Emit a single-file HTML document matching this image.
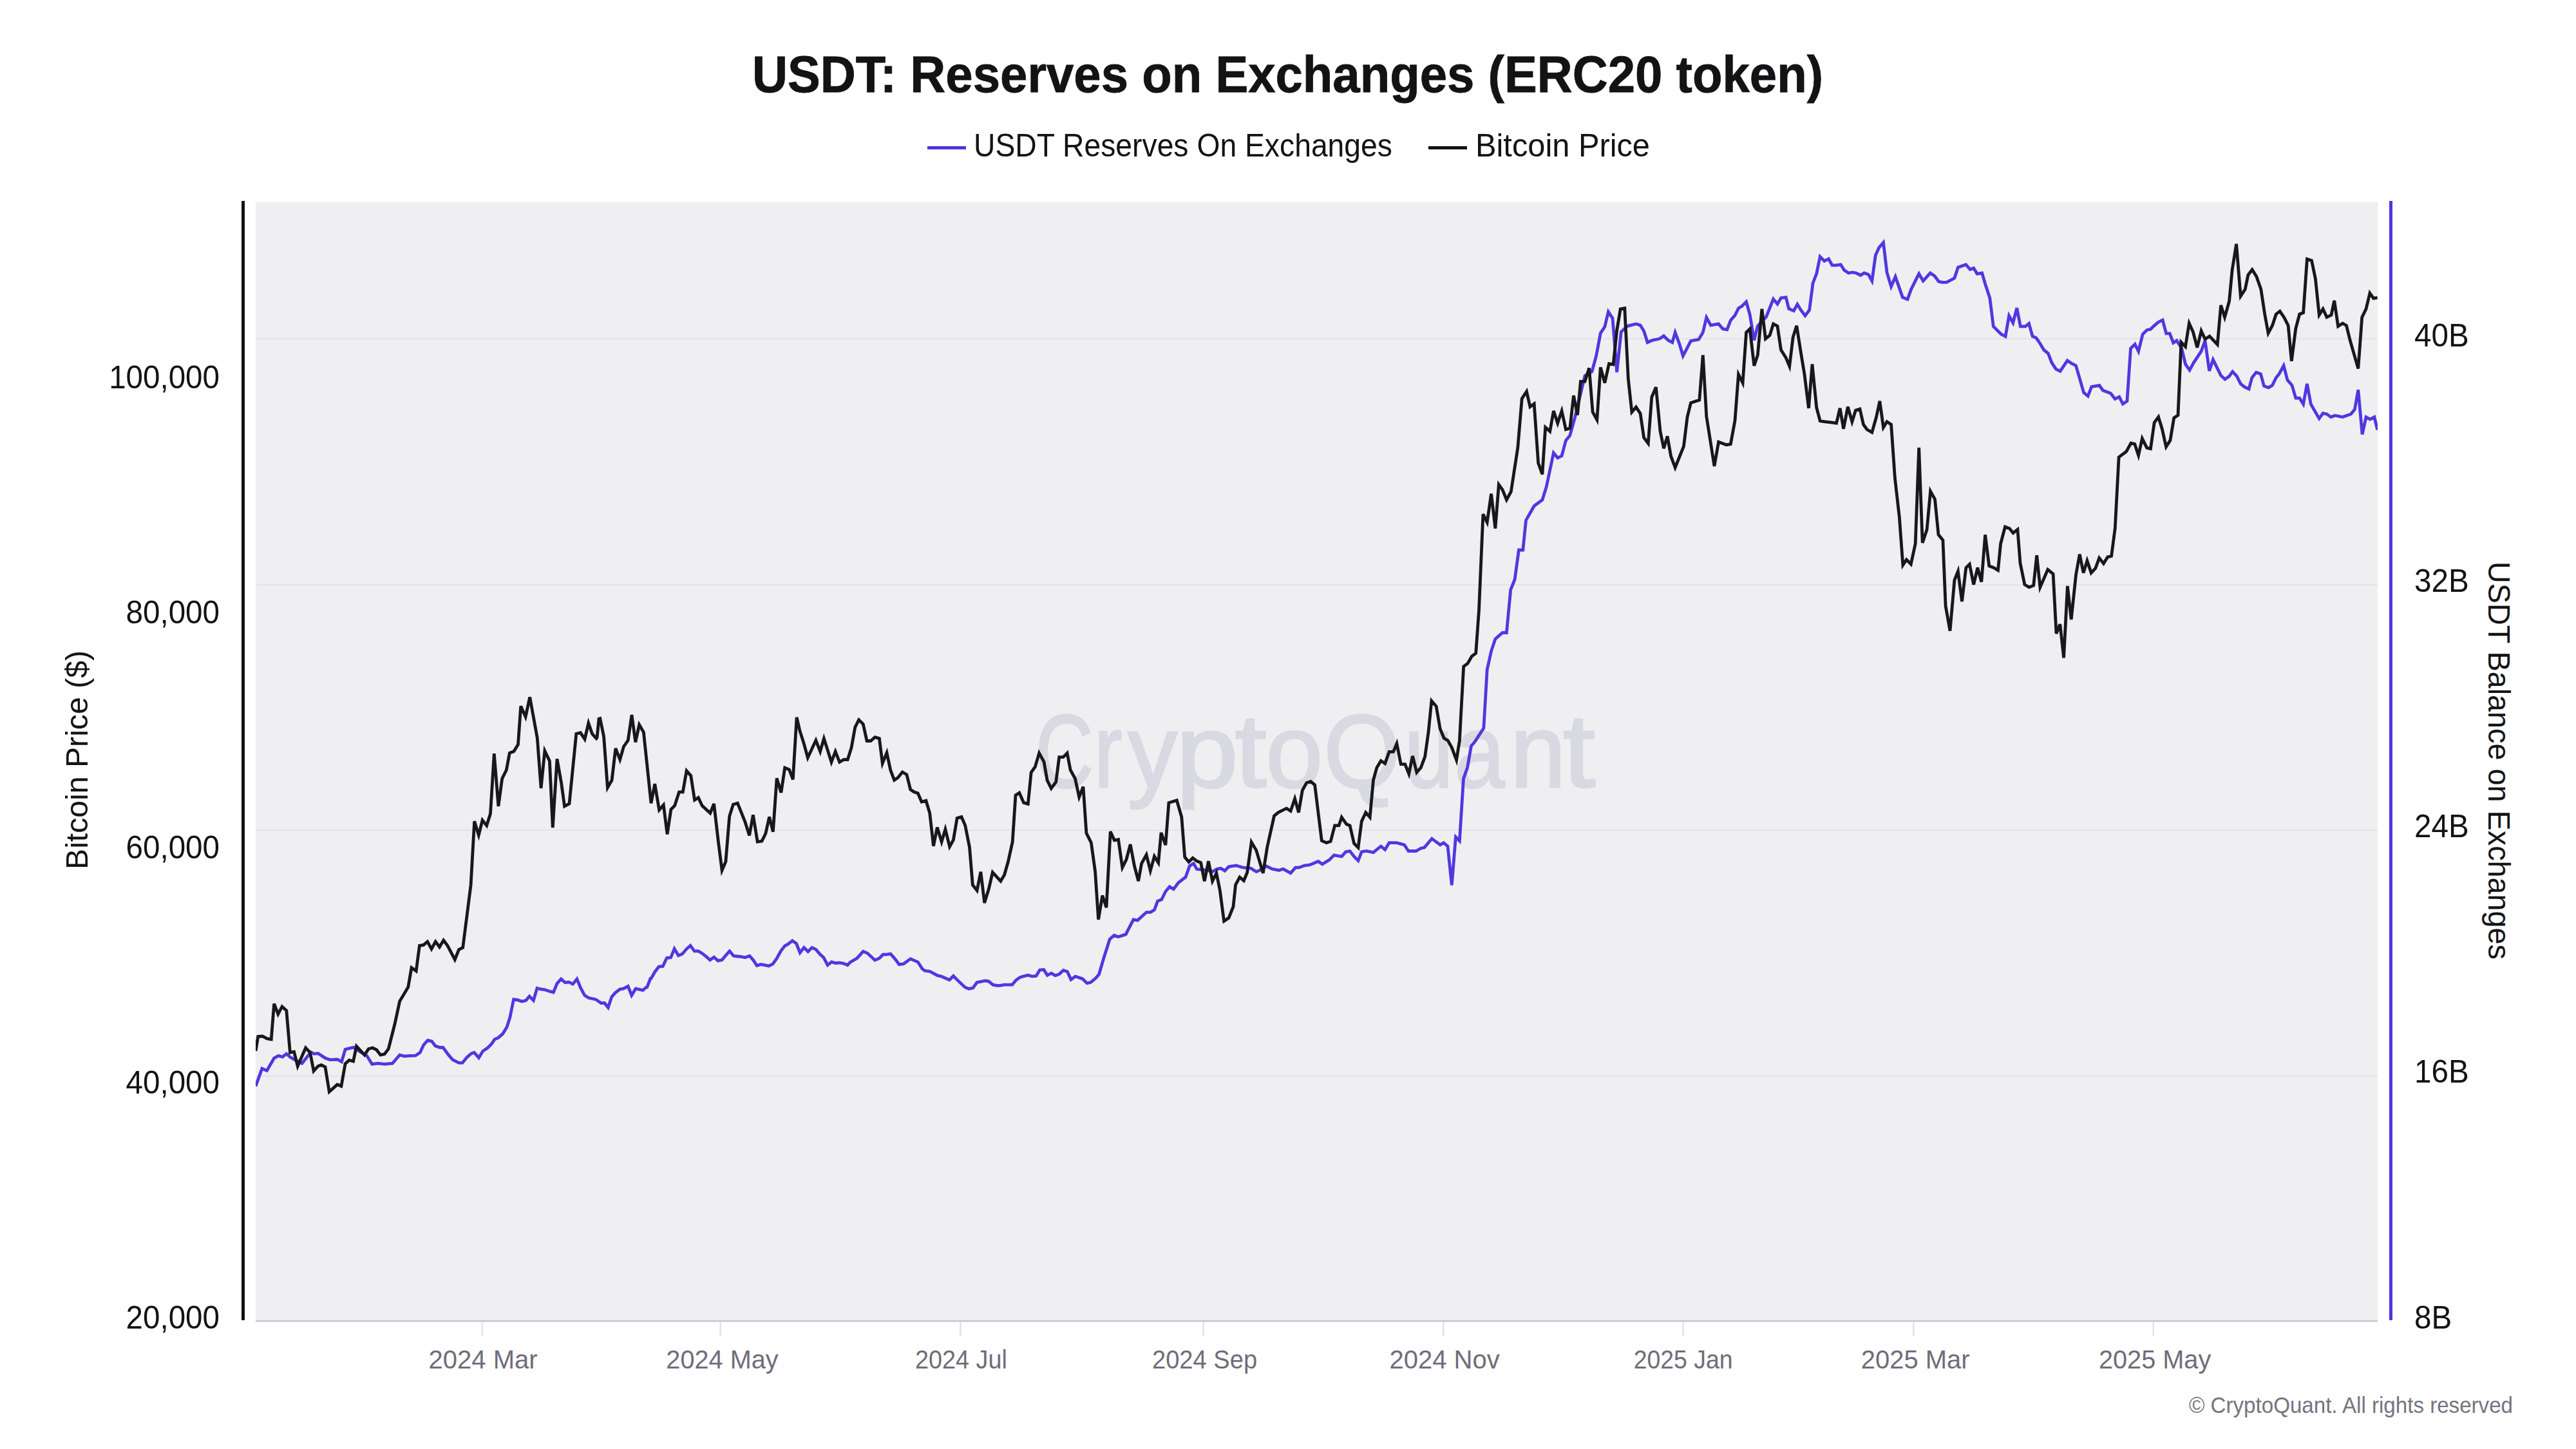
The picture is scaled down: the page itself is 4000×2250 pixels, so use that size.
<!DOCTYPE html>
<html><head><meta charset="utf-8"><title>USDT: Reserves on Exchanges (ERC20 token)</title>
<style>
html,body{margin:0;padding:0;background:#fff;width:4000px;height:2250px;overflow:hidden}
svg{position:absolute;left:0;top:0;display:block}
text{font-family:"Liberation Sans",sans-serif}
</style></head><body>
<svg width="4000" height="2250" viewBox="0 0 4000 2250">
<rect x="0" y="0" width="4000" height="2250" fill="#ffffff"/>
<!-- plot background -->
<rect x="397" y="314" width="3295" height="1737" fill="#efeff2"/>
<!-- gridlines -->
<g fill="#e3e2e8">
<rect x="397" y="525" width="3295" height="2"/>
<rect x="397" y="907" width="3295" height="2"/>
<rect x="397" y="1288" width="3295" height="2"/>
<rect x="397" y="1670" width="3295" height="2"/>
</g>
<!-- watermark -->
<g id="wm" font-size="162" fill="#d9d9e2" stroke="#d9d9e2" stroke-width="3"><text transform="translate(1607.66,1222) scale(0.7710,1)" x="0" y="0">C</text><text transform="translate(1698.73,1222) scale(0.8148,1)" x="0" y="0">r</text><text transform="translate(1751.12,1222) scale(0.9528,1)" x="0" y="0">y</text><text transform="translate(1825.98,1222) scale(1.0748,1)" x="0" y="0">p</text><text transform="translate(1917.62,1222) scale(1.0926,1)" x="0" y="0">t</text><text transform="translate(1965.29,1222) scale(0.9870,1)" x="0" y="0">o</text><text transform="translate(2055.24,1222) scale(0.9459,1)" x="0" y="0">Q</text><text transform="translate(2180.63,1222) scale(0.8428,1)" x="0" y="0">u</text><text transform="translate(2258.55,1222) scale(0.8652,1)" x="0" y="0">a</text><text transform="translate(2345.18,1222) scale(0.9590,1)" x="0" y="0">n</text><text transform="translate(2426.74,1222) scale(1.1240,1)" x="0" y="0">t</text></g>
<!-- LINES -->
<clipPath id="pc"><rect x="397" y="314" width="3295" height="1737"/></clipPath><g clip-path="url(#pc)">
<path d="M397.0 1686.6 L406.9 1659.3 L414.4 1662.4 L425.6 1643.1 L432.4 1639.4 L438.6 1641.2 L444.8 1636.3 L450.4 1641.2 L456.6 1645.0 L469.0 1651.2 L482.7 1633.8 L487.7 1636.3 L493.9 1635.7 L505.1 1643.1 L512.5 1645.6 L523.7 1645.0 L530.5 1648.7 L536.1 1629.4 L548.6 1626.3 L557.2 1631.9 L569.7 1639.4 L577.7 1652.4 L587.1 1651.2 L597.0 1652.4 L609.4 1651.2 L620.6 1638.1 L628.1 1640.0 L637.0 1639.4 L645.1 1639.2 L652.2 1634.4 L657.8 1622.5 L664.1 1615.4 L670.5 1617.0 L676.0 1624.1 L683.2 1626.5 L687.9 1626.5 L696.7 1638.4 L703.0 1645.6 L712.5 1650.3 L718.1 1650.3 L725.2 1641.6 L731.6 1636.0 L736.3 1634.4 L743.5 1642.4 L749.8 1632.1 L757.0 1627.3 L763.3 1621.0 L768.1 1613.8 L773.7 1611.4 L780.8 1605.1 L787.1 1594.8 L791.9 1579.7 L797.5 1551.9 L803.8 1552.7 L810.2 1555.1 L816.5 1553.5 L822.1 1547.1 L828.4 1553.5 L834.0 1534.4 L839.5 1536.0 L845.9 1536.8 L853.0 1539.2 L859.4 1540.8 L864.9 1527.3 L871.3 1520.2 L877.6 1525.7 L883.2 1524.9 L889.5 1528.1 L895.9 1520.2 L901.4 1533.7 L907.8 1545.6 L914.1 1549.5 L925.2 1551.9 L933.2 1557.5 L938.7 1557.5 L944.3 1564.6 L949.8 1547.9 L955.4 1541.6 L962.5 1536.0 L968.1 1535.2 L975.2 1531.3 L980.8 1545.6 L987.1 1535.2 L998.3 1537.6 L1004.6 1532.0 L1005.0 1532.2 L1010.0 1519.4 L1011.2 1519.1 L1016.8 1509.2 L1023.0 1501.1 L1029.2 1500.5 L1035.4 1487.5 L1041.6 1486.8 L1047.2 1473.2 L1053.4 1483.7 L1059.6 1481.2 L1065.8 1473.8 L1072.0 1468.2 L1078.3 1476.9 L1084.5 1476.9 L1090.7 1480.6 L1096.9 1485.6 L1102.5 1490.6 L1108.7 1486.2 L1114.9 1491.8 L1121.1 1490.6 L1127.3 1483.1 L1132.9 1476.9 L1139.1 1484.3 L1145.3 1485.0 L1151.6 1485.6 L1157.1 1486.8 L1164.0 1484.3 L1169.6 1490.6 L1175.2 1499.3 L1181.4 1497.4 L1187.6 1498.6 L1193.8 1499.9 L1200.0 1496.8 L1206.2 1488.1 L1212.4 1476.9 L1218.6 1468.8 L1224.2 1465.7 L1230.4 1460.7 L1236.6 1465.1 L1242.2 1479.4 L1248.4 1471.3 L1254.7 1477.5 L1260.9 1471.3 L1267.1 1474.4 L1273.3 1481.9 L1278.9 1486.8 L1285.1 1498.6 L1291.3 1493.7 L1297.5 1495.5 L1303.7 1494.9 L1309.9 1496.1 L1316.1 1498.6 L1320.0 1494.3 L1330.6 1488.0 L1340.3 1477.3 L1347.1 1480.2 L1358.6 1490.9 L1365.4 1488.0 L1371.2 1482.2 L1377.0 1482.2 L1382.8 1481.2 L1389.6 1488.9 L1396.3 1497.6 L1403.1 1496.7 L1413.7 1488.9 L1425.3 1493.8 L1432.1 1504.4 L1435.9 1507.3 L1443.7 1508.3 L1456.1 1514.9 L1461.7 1516.1 L1474.2 1521.7 L1480.4 1515.5 L1487.2 1522.4 L1498.4 1532.9 L1504.6 1535.4 L1510.8 1534.2 L1517.0 1525.5 L1529.4 1523.0 L1535.0 1523.6 L1541.9 1529.2 L1548.1 1530.4 L1553.0 1530.4 L1559.3 1529.2 L1571.7 1529.2 L1577.9 1521.7 L1584.1 1517.4 L1595.9 1514.3 L1602.7 1516.1 L1608.9 1515.5 L1614.5 1506.2 L1620.7 1505.6 L1626.3 1514.3 L1632.5 1511.2 L1638.8 1514.9 L1645.0 1512.4 L1651.2 1506.8 L1657.4 1508.7 L1663.0 1521.1 L1669.8 1516.1 L1681.0 1519.9 L1687.8 1526.7 L1693.4 1525.5 L1700.9 1519.3 L1706.5 1513.0 L1714.5 1485.7 L1723.2 1458.4 L1730.1 1452.2 L1736.3 1454.7 L1748.1 1450.9 L1760.0 1428.0 L1766.4 1429.1 L1780.1 1416.6 L1786.3 1416.6 L1792.5 1412.9 L1797.5 1399.3 L1803.7 1396.8 L1809.9 1384.3 L1816.1 1376.9 L1822.3 1380.6 L1829.8 1370.7 L1841.0 1362.0 L1847.2 1344.6 L1853.4 1340.9 L1858.4 1349.6 L1870.8 1350.8 L1883.2 1353.3 L1889.4 1349.6 L1895.6 1348.3 L1901.8 1352.1 L1908.0 1345.8 L1915.0 1344.6 L1919.6 1344.0 L1930.3 1347.2 L1942.1 1348.2 L1950.7 1353.6 L1956.0 1351.4 L1966.7 1345.0 L1975.3 1349.3 L1986.0 1351.4 L1992.4 1349.3 L2004.1 1355.7 L2011.6 1347.2 L2017.0 1347.2 L2025.5 1344.0 L2034.1 1342.9 L2046.9 1337.5 L2053.3 1341.8 L2064.0 1335.4 L2071.5 1327.9 L2083.3 1330.0 L2089.7 1322.6 L2096.1 1321.5 L2102.6 1330.0 L2109.0 1336.5 L2114.3 1322.6 L2121.8 1321.5 L2132.5 1323.6 L2144.3 1314.0 L2150.7 1319.3 L2157.1 1308.6 L2168.9 1308.6 L2180.6 1311.9 L2187.1 1321.5 L2198.8 1321.5 L2206.3 1317.2 L2211.7 1316.1 L2223.4 1302.2 L2236.3 1311.9 L2241.6 1308.6 L2248.0 1314.0 L2254.3 1374.5 L2260.4 1299.7 L2266.4 1305.7 L2272.5 1209.1 L2278.5 1192.2 L2284.5 1158.4 L2290.6 1151.1 L2303.9 1130.6 L2309.2 1039.7 L2315.6 1011.1 L2321.9 992.1 L2333.0 982.5 L2339.4 982.5 L2345.7 915.9 L2352.1 900.0 L2358.4 854.0 L2364.8 854.0 L2369.5 807.9 L2382.2 785.7 L2394.9 776.2 L2401.3 755.6 L2412.4 703.2 L2418.7 711.1 L2425.1 707.9 L2431.4 684.1 L2437.8 676.2 L2445.7 647.6 L2461.0 583.5 L2472.0 576.9 L2478.6 552.6 L2485.3 517.3 L2491.9 507.4 L2497.4 484.2 L2504.0 494.1 L2510.7 578.0 L2517.3 515.1 L2527.2 506.3 L2540.5 502.9 L2547.1 505.1 L2552.6 514.0 L2558.2 531.7 L2565.9 528.3 L2576.9 526.1 L2583.5 521.7 L2590.2 528.3 L2596.8 531.7 L2601.2 516.2 L2607.8 533.9 L2613.4 552.6 L2625.5 529.4 L2637.7 527.2 L2644.3 516.2 L2649.8 493.0 L2656.4 505.1 L2668.6 502.9 L2675.2 510.7 L2681.8 511.8 L2687.3 497.4 L2694.0 489.7 L2699.5 478.6 L2705.0 475.3 L2711.6 468.7 L2717.2 488.6 L2723.8 528.3 L2729.3 506.3 L2742.6 491.9 L2753.6 464.3 L2760.0 472.0 L2765.5 462.7 L2773.2 461.6 L2777.6 479.3 L2785.3 482.6 L2790.9 472.6 L2796.4 481.5 L2803.0 490.3 L2809.6 481.5 L2815.1 439.5 L2820.7 425.1 L2826.2 398.6 L2832.8 405.3 L2839.4 402.0 L2845.0 411.9 L2851.6 411.9 L2858.2 410.8 L2863.7 419.6 L2870.4 424.0 L2875.9 422.9 L2882.5 424.0 L2889.1 427.4 L2894.7 424.0 L2901.3 426.3 L2906.8 436.2 L2912.3 396.4 L2917.8 384.3 L2924.5 376.6 L2930.0 422.9 L2936.6 445.0 L2943.2 429.6 L2954.3 461.6 L2962.0 464.9 L2967.5 449.4 L2979.7 425.1 L2986.3 436.2 L2997.3 424.0 L3004.0 428.5 L3010.6 437.3 L3016.1 438.4 L3022.7 438.4 L3034.9 431.8 L3040.4 415.2 L3052.6 410.8 L3059.2 418.5 L3064.7 416.3 L3070.0 425.1 L3077.7 424.0 L3083.2 442.8 L3089.8 462.7 L3095.3 506.9 L3107.5 519.0 L3114.1 522.3 L3119.6 490.3 L3125.8 501.3 L3131.8 478.2 L3137.3 506.9 L3145.0 506.9 L3150.5 502.4 L3156.1 522.3 L3161.6 524.5 L3167.1 532.3 L3173.7 543.3 L3180.4 548.8 L3185.9 563.2 L3192.5 573.1 L3199.1 576.4 L3210.2 559.9 L3216.8 564.3 L3223.4 567.6 L3228.9 586.4 L3235.6 609.6 L3242.2 615.1 L3247.7 600.7 L3259.9 598.5 L3265.4 606.2 L3277.5 610.7 L3284.2 619.5 L3290.8 616.2 L3296.3 627.2 L3302.9 622.8 L3308.5 541.1 L3315.1 534.5 L3320.6 545.5 L3327.2 519.0 L3333.8 512.4 L3339.4 511.3 L3344.9 505.8 L3351.5 500.2 L3358.1 496.9 L3363.7 517.9 L3369.2 517.9 L3374.7 532.3 L3380.0 528.9 L3387.6 540.8 L3393.5 565.4 L3400.0 574.8 L3406.4 563.1 L3418.1 545.4 L3424.0 529.0 L3430.6 576.0 L3436.4 558.4 L3448.6 583.0 L3455.0 588.9 L3461.5 584.2 L3466.7 577.1 L3473.3 584.2 L3479.2 595.9 L3485.0 600.6 L3492.1 604.1 L3496.8 586.5 L3503.3 578.3 L3510.4 580.7 L3515.5 599.4 L3522.6 601.8 L3528.5 598.3 L3534.3 586.5 L3539.0 580.7 L3546.1 567.8 L3551.9 590.0 L3559.0 598.3 L3564.8 618.2 L3570.7 618.2 L3576.6 627.6 L3582.4 595.9 L3588.3 627.6 L3601.2 649.9 L3607.1 641.7 L3613.0 642.9 L3619.3 647.6 L3625.9 645.2 L3637.6 647.6 L3650.5 642.9 L3656.4 635.8 L3661.8 605.3 L3668.1 674.6 L3674.0 647.6 L3680.3 651.1 L3686.9 647.6 L3691.6 667.5" fill="none" stroke="#4f38df" stroke-width="4.8" stroke-linejoin="miter" stroke-miterlimit="4"/>
<path d="M397.0 1631.9 L400.7 1609.6 L407.6 1609.0 L414.4 1612.7 L421.2 1613.9 L425.6 1558.6 L431.8 1574.8 L438.0 1563.0 L444.8 1569.2 L450.4 1634.4 L456.6 1633.2 L462.2 1655.5 L474.6 1627.0 L481.5 1634.4 L487.1 1663.0 L493.9 1655.5 L498.9 1653.7 L505.0 1656.8 L511.3 1695.3 L523.7 1684.1 L529.9 1686.6 L536.1 1651.8 L542.3 1646.2 L548.6 1648.0 L553.5 1624.5 L566.0 1638.1 L572.2 1628.8 L578.4 1627.0 L584.6 1630.0 L590.8 1638.1 L597.0 1636.9 L603.2 1628.8 L613.1 1589.7 L620.6 1554.9 L633.8 1532.6 L639.0 1502.6 L646.2 1507.7 L651.4 1468.4 L657.6 1467.4 L663.8 1462.2 L670.0 1473.6 L676.3 1462.2 L682.5 1470.5 L688.7 1460.1 L694.9 1468.4 L706.3 1490.1 L712.5 1474.6 L718.7 1471.5 L731.1 1374.2 L736.7 1275.2 L743.3 1296.8 L749.1 1273.6 L755.7 1281.9 L761.5 1263.6 L767.3 1170.1 L773.9 1252.0 L779.7 1209.0 L786.3 1195.8 L791.3 1169.3 L797.9 1166.8 L804.5 1156.0 L808.7 1096.4 L816.1 1113.0 L822.7 1082.4 L834.3 1146.1 L840.1 1223.9 L845.9 1166.0 L853.4 1181.7 L858.3 1285.2 L865.0 1178.4 L871.6 1215.6 L876.6 1252.0 L884.0 1247.9 L894.8 1139.5 L901.4 1137.8 L908.0 1147.7 L913.8 1122.9 L919.6 1139.5 L926.0 1146.7 L927.1 1145.3 L929.9 1116.3 L931.8 1115.7 L937.6 1143.8 L943.4 1223.0 L950.1 1211.4 L955.9 1162.1 L962.7 1179.5 L968.5 1159.2 L975.2 1149.6 L981.0 1110.0 L986.8 1152.5 L992.6 1125.4 L999.4 1137.0 L1011.0 1247.2 L1016.8 1217.2 L1023.6 1257.8 L1030.3 1250.0 L1036.1 1295.5 L1041.9 1256.8 L1047.7 1251.0 L1054.5 1229.8 L1060.3 1229.8 L1066.1 1196.9 L1072.8 1204.6 L1078.6 1242.3 L1084.4 1238.5 L1090.2 1251.0 L1102.8 1262.6 L1108.6 1248.1 L1115.3 1306.1 L1121.1 1351.5 L1126.9 1338.0 L1132.7 1267.4 L1138.5 1249.1 L1145.3 1247.2 L1156.9 1276.1 L1163.6 1297.4 L1169.4 1265.5 L1176.2 1307.1 L1183.0 1306.1 L1188.8 1294.5 L1194.6 1268.4 L1200.4 1291.6 L1206.2 1208.5 L1212.9 1230.7 L1218.7 1192.1 L1225.5 1195.0 L1231.3 1210.4 L1237.1 1113.8 L1241.8 1134.1 L1248.5 1155.4 L1254.3 1176.6 L1266.9 1149.6 L1273.6 1167.0 L1279.4 1146.7 L1285.2 1165.0 L1291.0 1183.4 L1297.2 1167.0 L1303.6 1183.4 L1310.4 1179.5 L1316.2 1179.5 L1322.0 1161.2 L1327.8 1129.3 L1333.6 1117.7 L1340.3 1124.4 L1346.1 1150.5 L1351.9 1150.5 L1358.7 1144.7 L1365.4 1146.7 L1370.3 1185.3 L1377.0 1168.9 L1382.8 1195.9 L1388.6 1211.4 L1394.4 1207.5 L1401.2 1198.8 L1407.9 1202.7 L1413.7 1225.9 L1419.5 1229.8 L1425.3 1231.7 L1431.1 1245.2 L1437.9 1243.3 L1443.7 1262.6 L1449.5 1313.8 L1455.3 1284.8 L1462.1 1307.1 L1467.9 1287.7 L1474.6 1314.8 L1480.4 1304.2 L1486.2 1270.3 L1493.0 1268.4 L1498.8 1281.9 L1505.5 1315.7 L1510.3 1374.0 L1517.1 1382.7 L1522.9 1353.7 L1528.7 1402.0 L1535.5 1379.8 L1541.3 1354.6 L1553.8 1368.2 L1559.6 1358.5 L1565.4 1338.2 L1572.2 1307.3 L1577.0 1234.8 L1582.8 1231.0 L1589.6 1246.4 L1596.3 1248.4 L1601.2 1199.3 L1607.4 1190.6 L1613.6 1169.4 L1621.1 1183.1 L1626.1 1211.7 L1632.3 1224.1 L1639.7 1214.2 L1644.7 1175.7 L1650.9 1175.7 L1657.1 1169.4 L1662.1 1195.5 L1669.5 1209.2 L1675.7 1237.8 L1682.0 1221.6 L1686.9 1293.7 L1694.4 1308.6 L1700.6 1353.3 L1705.6 1427.8 L1711.8 1390.6 L1718.0 1409.2 L1724.2 1291.2 L1730.4 1304.8 L1736.6 1303.6 L1742.8 1347.1 L1749.0 1334.7 L1755.2 1311.1 L1761.5 1344.6 L1767.7 1368.2 L1772.6 1340.9 L1780.1 1327.2 L1786.3 1352.1 L1792.5 1329.7 L1798.7 1339.6 L1803.0 1293.0 L1809.9 1312.3 L1814.9 1246.5 L1827.3 1242.7 L1834.8 1268.8 L1839.7 1330.9 L1845.9 1338.4 L1852.1 1332.2 L1858.4 1337.1 L1864.6 1339.6 L1870.3 1368.2 L1876.5 1337.1 L1882.7 1368.2 L1888.9 1355.8 L1894.4 1383.1 L1900.6 1430.3 L1908.0 1425.3 L1915.0 1407.9 L1918.6 1373.9 L1925.0 1362.1 L1931.4 1367.5 L1936.7 1354.6 L1943.2 1307.6 L1950.7 1320.4 L1961.3 1355.7 L1967.8 1315.1 L1978.5 1266.9 L1984.9 1261.6 L1997.7 1255.2 L2004.1 1259.4 L2010.6 1240.2 L2016.5 1261.6 L2022.3 1227.3 L2028.7 1215.6 L2035.2 1213.4 L2041.6 1218.8 L2052.3 1305.4 L2059.8 1308.6 L2066.2 1306.5 L2072.6 1281.9 L2079.0 1281.9 L2083.3 1269.1 L2090.8 1279.8 L2096.1 1281.9 L2102.6 1309.7 L2109.0 1316.1 L2114.3 1275.5 L2120.7 1261.6 L2127.2 1269.1 L2132.5 1211.3 L2137.9 1192.0 L2144.3 1181.3 L2150.7 1185.6 L2157.1 1167.4 L2163.5 1167.4 L2168.9 1154.6 L2175.3 1186.7 L2181.7 1186.7 L2187.7 1201.7 L2193.5 1173.9 L2199.9 1199.5 L2206.3 1192.0 L2212.7 1174.9 L2218.1 1136.4 L2222.9 1088.3 L2230.2 1096.8 L2236.2 1131.8 L2242.3 1146.3 L2248.3 1149.9 L2254.3 1160.8 L2261.6 1180.1 L2266.4 1149.9 L2268.8 1105.2 L2272.7 1034.9 L2279.0 1030.2 L2285.4 1019.0 L2291.7 1014.3 L2296.5 947.6 L2302.9 798.4 L2309.2 811.1 L2315.6 766.7 L2321.9 820.6 L2327.3 752.4 L2333.0 760.3 L2339.4 776.2 L2346.3 763.5 L2356.8 695.2 L2363.2 619.0 L2370.5 607.9 L2375.9 631.7 L2382.2 627.0 L2388.6 719.0 L2394.9 736.5 L2399.7 663.5 L2406.7 669.8 L2412.4 638.1 L2418.7 657.1 L2425.1 638.1 L2431.4 666.7 L2437.8 665.1 L2443.5 614.3 L2449.5 644.4 L2454.4 592.4 L2461.0 592.4 L2467.6 571.4 L2473.1 639.9 L2479.8 652.0 L2485.3 570.3 L2491.9 594.6 L2498.5 564.8 L2505.1 565.9 L2510.7 512.9 L2516.2 479.8 L2522.8 478.6 L2528.3 588.0 L2533.9 639.9 L2540.5 632.1 L2547.1 642.1 L2552.6 679.6 L2559.3 688.5 L2564.8 616.7 L2571.4 601.2 L2578.0 669.7 L2583.5 696.2 L2589.1 677.4 L2594.6 708.3 L2601.2 726.0 L2614.5 692.9 L2620.0 647.6 L2625.5 625.5 L2638.8 621.1 L2644.3 551.5 L2649.8 646.5 L2662.0 723.8 L2668.6 686.2 L2680.7 690.7 L2687.3 689.6 L2694.0 653.1 L2699.5 581.3 L2706.1 594.6 L2711.6 516.2 L2717.2 510.7 L2723.8 568.1 L2729.3 551.5 L2735.9 479.8 L2741.5 526.1 L2748.1 520.6 L2753.6 502.9 L2760.0 506.3 L2765.5 543.3 L2773.2 555.5 L2778.7 568.7 L2784.2 523.4 L2789.8 505.8 L2796.4 547.7 L2801.9 580.8 L2808.5 633.9 L2814.0 565.4 L2820.7 632.7 L2826.2 653.7 L2833.9 654.8 L2842.8 655.9 L2851.6 657.0 L2857.1 633.9 L2862.6 665.9 L2869.3 631.6 L2875.9 654.8 L2881.4 637.2 L2888.0 635.0 L2893.5 659.2 L2899.1 667.0 L2906.8 671.4 L2913.4 648.2 L2918.9 622.8 L2924.5 663.7 L2930.0 654.8 L2936.6 659.2 L2942.4 742.1 L2949.3 802.8 L2954.8 877.4 L2960.4 869.1 L2967.3 876.0 L2974.2 844.3 L2979.7 695.2 L2985.2 842.9 L2992.1 822.2 L2997.6 762.8 L3004.5 775.2 L3010.0 830.4 L3016.9 838.7 L3021.1 940.9 L3028.0 979.5 L3034.9 900.8 L3040.4 887.0 L3046.5 934.0 L3052.8 881.5 L3058.3 876.0 L3064.7 907.7 L3070.8 881.5 L3076.8 903.6 L3082.6 830.4 L3088.7 878.8 L3095.6 881.5 L3102.5 885.6 L3106.6 844.3 L3113.5 818.0 L3120.5 820.8 L3126.0 827.7 L3132.9 822.2 L3137.0 874.6 L3143.9 907.7 L3150.8 911.9 L3157.7 909.1 L3162.7 862.2 L3167.9 911.9 L3179.8 884.3 L3188.1 891.2 L3193.0 983.8 L3198.8 969.3 L3204.6 1021.4 L3210.4 909.9 L3216.2 962.0 L3223.5 892.5 L3229.3 860.6 L3235.1 889.6 L3240.9 870.7 L3247.2 889.6 L3253.9 882.3 L3259.7 866.4 L3266.4 875.1 L3272.8 864.9 L3278.6 863.5 L3284.3 820.0 L3290.1 709.9 L3301.7 701.2 L3309.0 688.1 L3314.8 689.6 L3320.6 707.0 L3326.4 680.9 L3333.6 695.4 L3339.4 696.8 L3345.2 656.2 L3351.6 647.5 L3357.4 666.4 L3363.5 693.9 L3369.9 683.8 L3375.7 649.0 L3382.0 644.6 L3386.9 531.4 L3393.5 538.4 L3399.3 502.0 L3405.2 514.9 L3411.8 539.6 L3418.1 513.8 L3424.0 526.7 L3431.0 522.0 L3443.2 534.9 L3448.6 473.9 L3454.5 492.6 L3461.5 468.0 L3466.2 418.7 L3472.6 378.8 L3479.2 459.8 L3486.2 449.2 L3490.9 426.9 L3497.2 418.7 L3503.8 429.2 L3510.8 449.2 L3516.7 487.9 L3522.1 517.3 L3528.5 505.5 L3534.3 487.9 L3540.2 483.2 L3547.2 493.8 L3553.1 505.5 L3558.3 560.7 L3564.8 510.2 L3570.7 487.9 L3576.6 485.6 L3582.4 402.3 L3589.5 404.6 L3595.4 432.8 L3601.2 489.1 L3607.1 479.7 L3613.0 492.6 L3620.0 489.1 L3624.7 466.8 L3630.6 506.7 L3637.6 502.0 L3643.5 505.5 L3649.3 529.0 L3661.8 572.4 L3667.7 492.6 L3674.0 479.7 L3679.9 455.1 L3685.7 463.3 L3691.6 462.1" fill="none" stroke="#18181b" stroke-width="4.8" stroke-linejoin="miter" stroke-miterlimit="4"/>
</g>
<!-- /LINES -->
<!-- bottom axis -->
<rect x="397" y="2050" width="3295" height="2" fill="#c9c7d5"/><rect x="397" y="2052" width="3295" height="1" fill="#dcdae4"/>
<!-- ticks -->
<g fill="#e2e1e8">
<rect x="747.6" y="2053" width="2.4" height="22"/>
<rect x="1117.4" y="2053" width="2.4" height="22"/>
<rect x="1490.2" y="2053" width="2.4" height="22"/>
<rect x="1867.4" y="2053" width="2.4" height="22"/>
<rect x="2240.1" y="2053" width="2.4" height="22"/>
<rect x="2612.4" y="2053" width="2.4" height="22"/>
<rect x="2970.1" y="2053" width="2.4" height="22"/>
<rect x="3342.5" y="2053" width="2.4" height="22"/>
</g>
<!-- axes -->
<rect x="375" y="312" width="5" height="1738" fill="#111114"/>
<rect x="3710" y="312" width="5" height="1738" fill="#4f35e0"/>
<!-- title -->
<text id="title" x="1168" y="143" font-size="80" font-weight="bold" fill="#131316" stroke="#131316" stroke-width="0.8" textLength="1663" lengthAdjust="spacingAndGlyphs">USDT: Reserves on Exchanges (ERC20 token)</text>
<!-- legend -->
<rect x="1440" y="227" width="60" height="5" fill="#4f35e0"/>
<text id="leg1" x="1512" y="243" font-size="50" fill="#131316" textLength="650" lengthAdjust="spacingAndGlyphs">USDT Reserves On Exchanges</text>
<rect x="2218" y="227" width="60" height="5" fill="#131316"/>
<text id="leg2" x="2291" y="243" font-size="50" fill="#131316" textLength="271" lengthAdjust="spacingAndGlyphs">Bitcoin Price</text>
<!-- left labels -->
<g font-size="50" fill="#131316" text-anchor="end" transform="translate(341,0) scale(0.951,1) translate(-341,0)">
<text x="341" y="603">100,000</text>
<text x="341" y="968">80,000</text>
<text x="341" y="1333">60,000</text>
<text x="341" y="1698">40,000</text>
<text x="341" y="2063">20,000</text>
</g>
<!-- right labels -->
<g font-size="50" fill="#131316" transform="translate(3749,0) scale(0.952,1) translate(-3749,0)">
<text x="3749" y="538">40B</text>
<text x="3749" y="919">32B</text>
<text x="3749" y="1300">24B</text>
<text x="3749" y="1681">16B</text>
<text x="3749" y="2063">8B</text>
</g>
<!-- axis titles -->
<text id="ytl" transform="translate(136,1350) rotate(-90)" x="0" y="0" font-size="49" fill="#131316" textLength="340" lengthAdjust="spacingAndGlyphs">Bitcoin Price ($)</text>
<text id="ytr" transform="translate(3864,872) rotate(90)" x="0" y="0" font-size="49" fill="#131316" textLength="618" lengthAdjust="spacingAndGlyphs">USDT Balance on Exchanges</text>
<!-- x labels -->
<g font-size="40.5" fill="#6e6d7a">
<text id="xl0" x="665.5" y="2125" textLength="169.2" lengthAdjust="spacingAndGlyphs">2024 Mar</text>
<text id="xl1" x="1034.3" y="2125" textLength="174.4" lengthAdjust="spacingAndGlyphs">2024 May</text>
<text id="xl2" x="1420.9" y="2125" textLength="143.0" lengthAdjust="spacingAndGlyphs">2024 Jul</text>
<text id="xl3" x="1789.0" y="2125" textLength="163.1" lengthAdjust="spacingAndGlyphs">2024 Sep</text>
<text id="xl4" x="2157.4" y="2125" textLength="171.3" lengthAdjust="spacingAndGlyphs">2024 Nov</text>
<text id="xl5" x="2536.7" y="2125" textLength="153.9" lengthAdjust="spacingAndGlyphs">2025 Jan</text>
<text id="xl6" x="2889.7" y="2125" textLength="169.0" lengthAdjust="spacingAndGlyphs">2025 Mar</text>
<text id="xl7" x="3258.9" y="2125" textLength="174.4" lengthAdjust="spacingAndGlyphs">2025 May</text>
</g>
<!-- copyright -->
<text id="copy" x="3399" y="2194" font-size="35" fill="#75747f" textLength="503" lengthAdjust="spacingAndGlyphs">© CryptoQuant. All rights reserved</text>
</svg>
</body></html>
